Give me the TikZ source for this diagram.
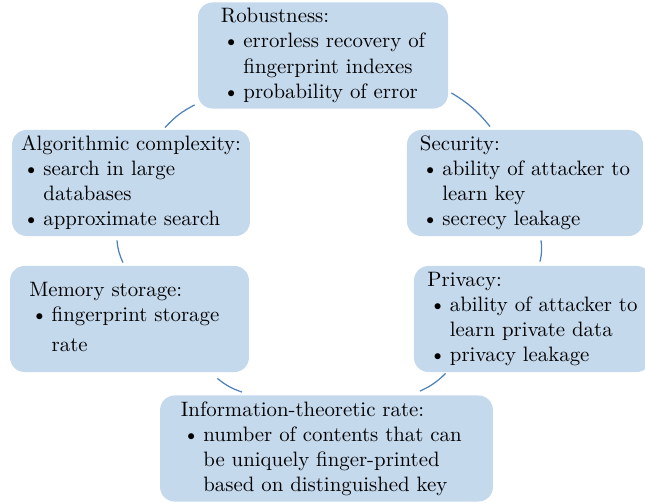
\documentclass[tikz,border=0pt]{standalone}
\usepackage{tikz}
\definecolor{boxblue}{RGB}{197,217,237}
\definecolor{linkblue}{RGB}{79,129,189}
\begin{document}
\begin{tikzpicture}[x=0.48pt, y=0.48pt,
    area/.style={fill=boxblue, rounded corners=7pt, minimum height=50.9pt, inner sep=0pt},
    link/.style={linkblue, line width=0.6pt}]
    \useasboundingbox (0,0) rectangle (645,502);

    \node[area, minimum width=120pt] (rob) at (323,446.5) {\begin{tabular}{@{\hspace{1pt}}l@{\hspace{2pt}}l@{}}
        \multicolumn{2}{@{}l@{}}{Robustness:}\\
        \textbullet & errorless recovery of\\
        & fingerprint indexes\\
        \textbullet & probability of error
    \end{tabular}};

    \node[area, minimum width=114.2pt] (alg) at (131,319) {\begin{tabular}{@{\hspace{1pt}}l@{\hspace{2pt}}l@{}}
        \multicolumn{2}{@{}l@{}}{Algorithmic complexity:}\\
        \textbullet & search in large\\
        & databases\\
        \textbullet & approximate search
    \end{tabular}};

    \node[area, minimum width=113.3pt] (sec) at (525,319) {\begin{tabular}{@{\hspace{1pt}}l@{\hspace{2pt}}l@{}}
        \multicolumn{2}{@{}l@{}}{Security:}\\
        \textbullet & ability of attacker to\\
        & learn key\\
        \textbullet & secrecy leakage
    \end{tabular}};

    \node[area, minimum width=114.7pt] (mem) at (129.5,183) {\begin{tabular}{@{\hspace{1pt}}l@{\hspace{2pt}}l@{\hspace{5pt}}}
        \multicolumn{2}{@{}l@{\hspace{5pt}}}{Memory storage:}\\
        \textbullet & fingerprint storage\\[2pt]
        & rate
    \end{tabular}};

    \node[area, minimum width=113.8pt] (priv) at (532.5,183) {\begin{tabular}{@{\hspace{1pt}}l@{\hspace{2pt}}l@{}}
        \multicolumn{2}{@{}l@{}}{Privacy:}\\
        \textbullet & ability of attacker to\\
        & learn private data\\
        \textbullet & privacy leakage
    \end{tabular}};

    \node[area, minimum width=159.8pt] (info) at (326.5,53.5) {\begin{tabular}{@{\hspace{1pt}}l@{\hspace{2pt}}l@{\hspace{5pt}}}
        \multicolumn{2}{@{}l@{\hspace{5pt}}}{Information-theoretic rate:}\\
        \textbullet & number of contents that can\\
        & be uniquely finger-printed\\
        & based on distinguished key
    \end{tabular}};

    % links around the circle
    \draw[link] ([shift={(3,16)}]rob.south east) to[bend left=10] ([shift={(-35,3)}]sec.north);
    \draw[link] ([shift={(16,-4)}]sec.south) to[bend left=10] ([shift={(7.5,4)}]priv.north);
    \draw[link] ([shift={(32,-1)}]priv.south west) to[bend left=10] ([shift={(93.5,4)}]info.north);
    \draw[link] ([shift={(-84.5,3)}]info.north) to[bend left=10] ([shift={(-32,-6)}]mem.south east);
    \draw[link] ([shift={(-6.5,3)}]mem.north) to[bend left=10] ([shift={(-14,-4)}]alg.south);
    \draw[link] ([shift={(34,2)}]alg.north) to[bend left=10] ([shift={(-3,4)}]rob.south west);
\end{tikzpicture}
\end{document}
